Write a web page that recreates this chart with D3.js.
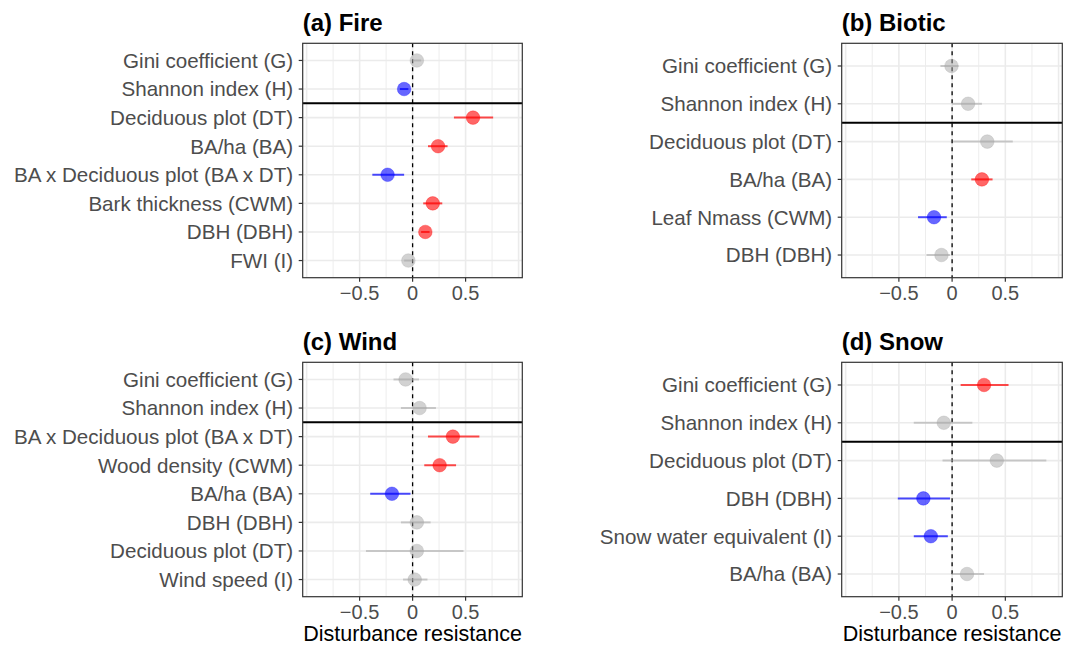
<!DOCTYPE html>
<html><head><meta charset="utf-8">
<script src="https://cdn.jsdelivr.net/npm/d3@7"></script>
<style>body{margin:0;background:#fff;} text{font-family:"Liberation Sans",Arial,sans-serif;}</style>
</head><body>
<svg id="c" width="1065" height="646"></svg>
<script>
// ---- data ----
const fireLabels = ["Gini coefficient (G)","Shannon index (H)","Deciduous plot (DT)","BA/ha (BA)","BA x Deciduous plot (BA x DT)","Bark thickness (CWM)","DBH (DBH)","FWI (I)"];
const fireEst = [0.04,-0.08,0.57,0.24,-0.236,0.19,0.12,-0.04];
const fireLo  = [0.00,-0.12,0.39,0.145,-0.38,0.10,0.08,-0.08];
const fireHi  = [0.08,-0.04,0.76,0.33,-0.08,0.28,0.16,0.00];
const fireSig = ["ns","neg","pos","pos","neg","pos","pos","ns"];

const bioticLabels = ["Gini coefficient (G)","Shannon index (H)","Deciduous plot (DT)","BA/ha (BA)","Leaf Nmass (CWM)","DBH (DBH)"];
const bioticEst = [-0.006,0.15,0.33,0.28,-0.17,-0.10];
const bioticLo  = [-0.11,0.00,0.01,0.18,-0.32,-0.24];
const bioticHi  = [0.06,0.28,0.57,0.38,-0.05,-0.02];
const bioticSig = ["ns","ns","ns","pos","neg","ns"];

const windLabels = ["Gini coefficient (G)","Shannon index (H)","BA x Deciduous plot (BA x DT)","Wood density (CWM)","BA/ha (BA)","DBH (DBH)","Deciduous plot (DT)","Wind speed (I)"];
const windEst = [-0.066,0.066,0.38,0.255,-0.195,0.04,0.04,0.02];
const windLo  = [-0.18,-0.11,0.145,0.11,-0.40,-0.11,-0.44,-0.09];
const windHi  = [0.06,0.22,0.63,0.41,-0.02,0.17,0.48,0.14];
const windSig = ["ns","ns","pos","pos","neg","ns","ns","ns"];

const snowLabels = ["Gini coefficient (G)","Shannon index (H)","Deciduous plot (DT)","DBH (DBH)","Snow water equivalent (I)","BA/ha (BA)"];
const snowEst = [0.30,-0.078,0.42,-0.27,-0.20,0.14];
const snowLo  = [0.08,-0.36,-0.09,-0.51,-0.36,0.00];
const snowHi  = [0.53,0.19,0.885,-0.02,-0.04,0.30];
const snowSig = ["pos","ns","ns","neg","neg","ns"];

const panelTitles = ["(a) Fire","(b) Biotic","(c) Wind","(d) Snow"];
const xTicks = [-0.5,0,0.5];
const xTickLabels = ["\u22120.5","0","0.5"];
const gridMajor = [-1,-0.5,0,0.5,1];
const gridMinor = [-0.75,-0.25,0.25,0.75];
const xTitle = "Disturbance resistance";

// ---- drawing ----
const svg = d3.select("#c");
const colors = {pos:"#ff0000", neg:"#0000ff", ns:"#a6a6a6"};
const panels = [
  {t:panelTitles[0], L:fireLabels, E:fireEst, lo:fireLo, hi:fireHi, S:fireSig, x0:302.7, x1:522.3, y0:43.3, y1:277.7, xt:false},
  {t:panelTitles[1], L:bioticLabels, E:bioticEst, lo:bioticLo, hi:bioticHi, S:bioticSig, x0:841.7, x1:1062.3, y0:43.3, y1:277.7, xt:false},
  {t:panelTitles[2], L:windLabels, E:windEst, lo:windLo, hi:windHi, S:windSig, x0:302.7, x1:522.3, y0:362.3, y1:596.7, xt:true},
  {t:panelTitles[3], L:snowLabels, E:snowEst, lo:snowLo, hi:snowHi, S:snowSig, x0:841.7, x1:1062.3, y0:362.3, y1:596.7, xt:true}
];

panels.forEach(p => {
  const g = svg.append("g");
  const x = d3.scaleLinear().domain([-1.037,1.035]).range([p.x0,p.x1]);
  const y = d3.scalePoint().domain(p.L).range([p.y0,p.y1]).padding(0.6);
  // grid
  g.selectAll(".gmin").data(gridMinor).join("line")
    .attr("x1",d=>x(d)).attr("x2",d=>x(d)).attr("y1",p.y0).attr("y2",p.y1)
    .attr("stroke","#ebebeb").attr("stroke-width",0.9);
  g.selectAll(".gmaj").data(gridMajor).join("line")
    .attr("x1",d=>x(d)).attr("x2",d=>x(d)).attr("y1",p.y0).attr("y2",p.y1)
    .attr("stroke","#ebebeb").attr("stroke-width",1.6);
  g.selectAll(".gy").data(p.L).join("line")
    .attr("x1",p.x0).attr("x2",p.x1).attr("y1",d=>y(d)).attr("y2",d=>y(d))
    .attr("stroke","#ebebeb").attr("stroke-width",1.6);
  // zero dashed
  g.append("line").attr("x1",x(0)).attr("x2",x(0)).attr("y1",p.y0).attr("y2",p.y1)
    .attr("stroke","#000").attr("stroke-width",1.3).attr("stroke-dasharray","4,4");
  // CIs
  p.L.forEach((lab,i) => {
    const c = colors[p.S[i]];
    g.append("line").attr("x1",x(p.lo[i])).attr("x2",x(p.hi[i])).attr("y1",y(lab)).attr("y2",y(lab))
      .attr("stroke",c).attr("stroke-width",2).attr("stroke-opacity",p.S[i]==="ns"?0.55:0.7);
  });
  // points
  p.L.forEach((lab,i) => {
    const c = colors[p.S[i]];
    g.append("circle").attr("cx",x(p.E[i])).attr("cy",y(lab)).attr("r",6.8)
      .attr("fill",c).attr("fill-opacity",p.S[i]==="ns"?0.5:0.6)
      .attr("stroke",c).attr("stroke-opacity",0.3).attr("stroke-width",1);
  });
  // separator line between 2nd and 3rd rows
  const sepY = (y(p.L[1]) + y(p.L[2]))/2;
  g.append("line").attr("x1",p.x0).attr("x2",p.x1).attr("y1",sepY).attr("y2",sepY)
    .attr("stroke","#000").attr("stroke-width",2);
  // border
  g.append("rect").attr("x",p.x0).attr("y",p.y0).attr("width",p.x1-p.x0).attr("height",p.y1-p.y0)
    .attr("fill","none").attr("stroke","#333").attr("stroke-width",1.2);
  // y ticks & labels
  p.L.forEach(lab => {
    g.append("line").attr("x1",p.x0-4).attr("x2",p.x0).attr("y1",y(lab)).attr("y2",y(lab))
      .attr("stroke","#333").attr("stroke-width",1.2);
    g.append("text").attr("x",p.x0-9.5).attr("y",y(lab)).attr("dy","0.36em")
      .attr("text-anchor","end").attr("font-size",20.6).attr("fill","#4d4d4d").text(lab);
  });
  // x ticks & labels
  xTicks.forEach((t,i) => {
    g.append("line").attr("x1",x(t)).attr("x2",x(t)).attr("y1",p.y1).attr("y2",p.y1+4)
      .attr("stroke","#333").attr("stroke-width",1.2);
    g.append("text").attr("x",x(t)).attr("y",p.y1+22.5)
      .attr("text-anchor","middle").attr("font-size",20).attr("fill","#4d4d4d").text(xTickLabels[i]);
  });
  // title
  g.append("text").attr("x",p.x0).attr("y",p.y0-12.5).attr("font-size",24).attr("font-weight","bold")
    .attr("fill","#000").text(p.t);
  if (p.xt) {
    g.append("text").attr("x",(p.x0+p.x1)/2).attr("y",p.y1+44.5).attr("text-anchor","middle")
      .attr("font-size",21.5).attr("fill","#000").text(xTitle);
  }
});
</script>
</body></html>
